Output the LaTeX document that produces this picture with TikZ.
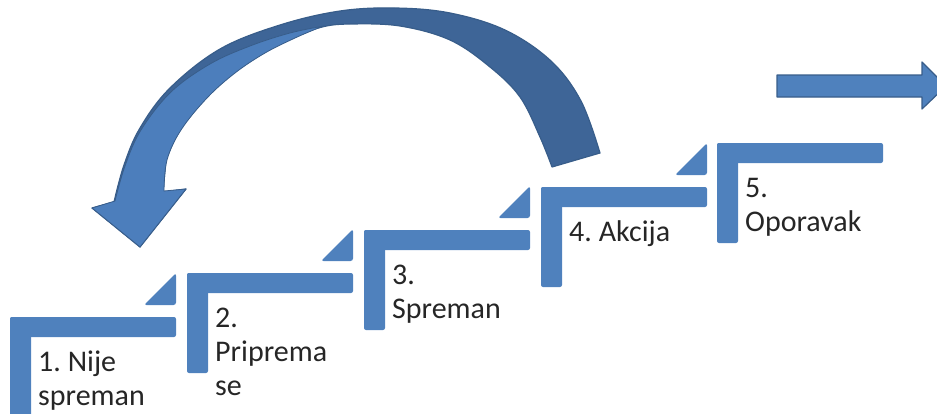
\documentclass[tikz,border=0pt]{standalone}
\usepackage{fontspec}
\setmainfont{Carlito}
\usepackage{tikz}
\usetikzlibrary{positioning}
\frenchspacing
\definecolor{stepblue}{RGB}{79,129,189}
\definecolor{arrowdark}{RGB}{62,101,151}
\definecolor{arrowlight}{RGB}{76,126,188}
\definecolor{arrowline}{RGB}{56,93,138}
\tikzset{stepbar/.style={fill=stepblue, rounded corners=2pt}}
\tikzset{stepcorner/.style={fill=stepblue, rounded corners=2.5pt}}
\tikzset{steplbl/.style={anchor=north west, inner sep=0pt, align=left, text=black!85, font=\fontsize{30}{34}\selectfont}}

\begin{document}
\begin{tikzpicture}[x=1pt, y=-1pt]
\tikzstyle{blockarrow} = [draw=arrowline, line width=1.2pt, line join=round]

\useasboundingbox (0,0) rectangle (937,413);
\clip (0,0) rectangle (937,413);

% corners of the five steps
\coordinate (S1) at (10,317);
\coordinate (S2) at (187,273);
\coordinate (S3) at (364,230);
\coordinate (S4) at (541,187);
\coordinate (S5) at (717,143);

% steps
\fill[stepbar] (S1) rectangle +(166,20);
\fill[stepbar] (S1) rectangle +(21,110);
\fill[stepcorner] (S1) ++(134,-12) -- ++(32,0) -- ++(0,-32) -- cycle;

\fill[stepbar] (S2) rectangle +(166,20);
\fill[stepbar] (S2) rectangle +(21,100);
\fill[stepcorner] (S2) ++(134,-12) -- ++(32,0) -- ++(0,-32) -- cycle;

\fill[stepbar] (S3) rectangle +(166,20);
\fill[stepbar] (S3) rectangle +(21,100);
\fill[stepcorner] (S3) ++(134,-12) -- ++(32,0) -- ++(0,-32) -- cycle;

\fill[stepbar] (S4) rectangle +(166,20);
\fill[stepbar] (S4) rectangle +(21,100);
\fill[stepcorner] (S4) ++(134,-12) -- ++(32,0) -- ++(0,-32) -- cycle;

\fill[stepbar] (S5) rectangle +(166,20);
\fill[stepbar] (S5) rectangle +(21,100);

% labels
\node[steplbl] (L1) [below right = 30pt and 28pt of S1] {\strut 1. Nije\\spreman};
\node[steplbl] (L2) [below right = 30pt and 28pt of S2] {\strut 2.\\Priprema\\se};
\node[steplbl] (L3) [below right = 30pt and 28pt of S3] {\strut 3.\\Spreman};
\node[steplbl] (L4) [below right = 30pt and 28pt of S4] {\strut 4. Akcija};
\node[steplbl] (L5) [below right = 30pt and 28pt of S5] {\strut 5.\\Oporavak};

% curved arrow back to the first step
\path[blockarrow, fill=arrowdark]
  plot[smooth, tension=0.6] coordinates {(600,153) (581,101) (551,61) (505,30) (450,13) (395,8) (340,11) (280,25) (220,49) (170,88) (140,128) (124,165) (114,202)}
  -- (92,208) -- (140,247) -- (186,189) -- (163,192)
  -- plot[smooth, tension=0.6] coordinates {(166,160) (180,130) (207,97) (235,72) (265,52) (295,37) (322,27) (350,24) (400,26) (450,40) (490,67) (520,97) (540,137) (552,167)}
  -- cycle;
\path[draw=arrowline, line width=0.8pt, line join=round, fill=arrowlight]
  plot[smooth, tension=0.6] coordinates {(115,201) (125,166) (141,130) (171,92) (210,64) (250,46) (290,33) (324,26)}
  -- plot[smooth, tension=0.6] coordinates {(316,29) (295,38) (265,53) (235,73) (207,98) (181,130) (167,160) (164,191)}
  -- (186,189) -- (140,247) -- (92,208) -- cycle;

% straight arrow to the right
\path[blockarrow, fill=stepblue]
  (777,75) -- (922,75) -- (922,62) -- (946,86) -- (922,109) -- (922,97) -- (777,97) -- cycle;

\end{tikzpicture}
\end{document}
